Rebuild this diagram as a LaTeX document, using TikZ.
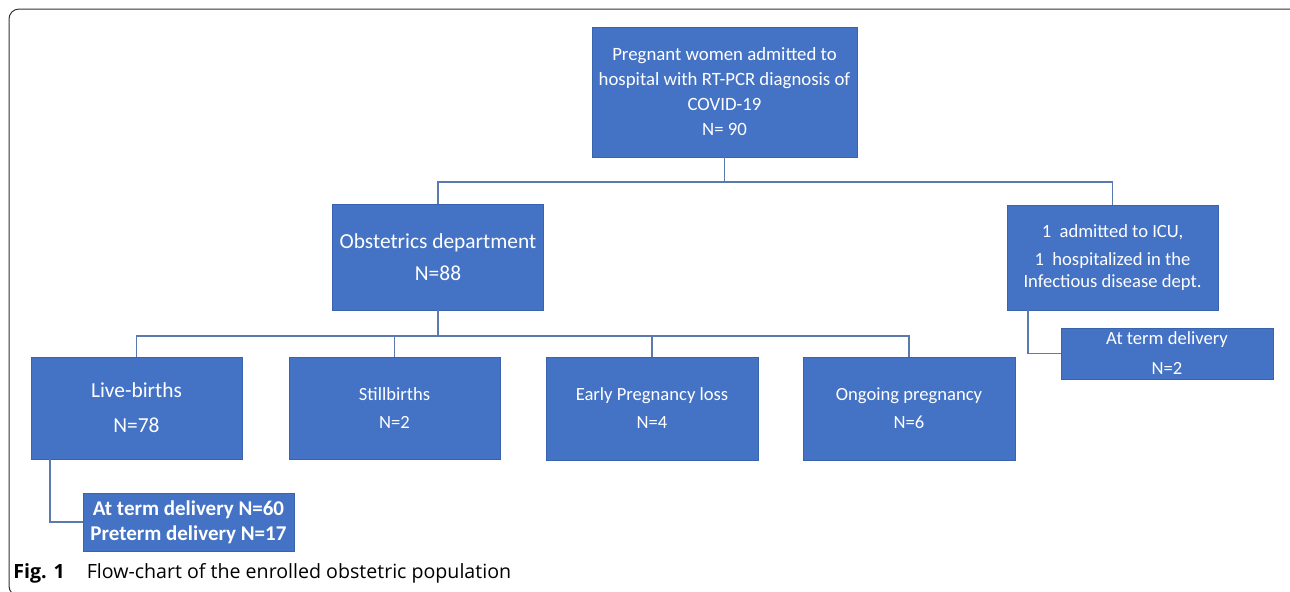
\documentclass[tikz,border=0pt]{standalone}
\usepackage{fontspec}
\setmainfont{Carlito}
\newfontfamily\capfont{Open Sans}
\usepackage{tikz}
\usetikzlibrary{positioning,calc}
\definecolor{boxblue}{HTML}{4472C4}
\definecolor{boxedge}{HTML}{3A63AE}
\definecolor{linkblue}{HTML}{5A79AC}

\begin{document}
\begin{tikzpicture}[x=0.5pt, y=-0.5pt,
    box/.style={draw=boxedge, line width=0.4pt, fill=boxblue, text=white, align=center, inner sep=0pt},
    big/.style={font=\fontsize{10.7}{13}\selectfont},
    small/.style={font=\fontsize{9.3}{11}\selectfont},
    link/.style={draw=linkblue, line width=0.9pt}]
    \useasboundingbox (0,0) rectangle (1290,591);
    \begin{scope}
        \clip (0,0) rectangle (1290,591);
        \draw[black!80, line width=0.5pt, rounded corners=5pt] (9,9) rectangle (1300,596);
    \end{scope}

    \node[box, minimum width=132.5pt, minimum height=65pt, font=\fontsize{9.4}{12.5}\selectfont] (adm) at (724.5,92) {Pregnant women admitted to\\hospital with RT-PCR diagnosis of\\COVID-19\\N= 90};
    \node[box, big, minimum width=105.5pt, minimum height=53pt] (obst) at (438,257) {Obstetrics department\\[3pt]N=88};
    \node[box, small, minimum width=105.5pt, minimum height=52.5pt] (icu) at (1112.5,257.5) {1~ admitted to ICU,\\[3pt]1~ hospitalized in the\\Infectious disease dept.};
    \node[box, small, minimum width=106pt, minimum height=25.5pt] (dicu) at (1167,353.5) {At term delivery\\[4pt]N=2};
    \node[box, big, minimum width=105.5pt, minimum height=51pt] (live) at (136.5,408) {Live-births\\[4.5pt]N=78};
    \node[box, small, minimum width=105.5pt, minimum height=51pt] (still) at (394.5,408) {Stillbirths\\[3pt]N=2};
    \node[box, small, minimum width=106pt, minimum height=51.5pt] (early) at (652,408.5) {Early Pregnancy loss\\[3pt]N=4};
    \node[box, small, minimum width=106pt, minimum height=51.5pt] (ongo) at (909,408.5) {Ongoing pregnancy\\[3pt]N=6};
    \node[box, minimum width=105.5pt, minimum height=29pt, font=\fontsize{10.5}{12.5}\selectfont\bfseries] (dlive) at (188.5,522) {At term delivery N=60\\Preterm delivery N=17};

    \coordinate (busA) at (0,182);
    \coordinate (busB) at (0,336);
    \draw[link] (adm.south) -- (adm.south |- busA);
    \draw[link] (obst.north) |- (icu.north |- busA) -- (icu.north);
    \draw[link] (obst.south) -- (obst.south |- busB);
    \draw[link] (live.north) |- (ongo.north |- busB) -- (ongo.north);
    \draw[link] (still.north) -- (still.north |- busB);
    \draw[link] (early.north) -- (early.north |- busB);
    \draw[link] ([xshift=9.5pt]live.south west) |- (dlive.west);
    \draw[link] ([xshift=10.5pt]icu.south west) |- (dicu.west);

    \node[anchor=west, inner sep=0pt, font=\capfont\fontsize{9.8}{11}\selectfont] (cap) at (13,573) {\textbf{Fig. 1}\hspace{11pt}Flow-chart of the enrolled obstetric population};
\end{tikzpicture}
\end{document}
